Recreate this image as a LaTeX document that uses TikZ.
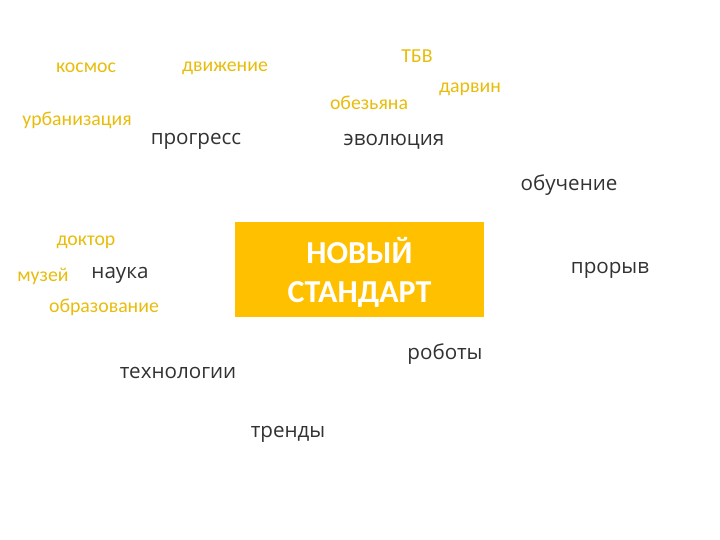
\documentclass[tikz,border=0pt]{standalone}
\usepackage{fontspec}
\setmainfont{Carlito}
\newfontfamily\darkfont{Open Sans}
\definecolor{wordyellow}{RGB}{232,188,10}
\definecolor{boxyellow}{RGB}{255,192,0}
\definecolor{worddark}{RGB}{50,50,50}
\tikzset{
  yw/.style={text=wordyellow, font=\fontsize{19.8}{22}\selectfont, inner sep=0pt},
  dw/.style={text=worddark, font=\darkfont\fontsize{20.6}{24}\selectfont, inner sep=0pt},
  mainbox/.style={fill=boxyellow, draw=none, minimum width=249pt, minimum height=95pt, inner sep=0pt},
  boxtext/.style={text=white, font=\bfseries\fontsize{32}{39}\selectfont, align=center, inner sep=0pt}
}
\begin{document}
\begin{tikzpicture}[x=1pt,y=-1pt]
\useasboundingbox (0,0) rectangle (720,540);
\node[yw] (kosmos) at (86,68) {космос};
\node[yw] (dvizh) at (225,68) {движение};
\node[yw] (urban) at (77,120) {урбанизация};
\node[dw] (progr) at (196,141) {прогресс};
\node[yw] (tbv) at (417,56) {ТБВ};
\node[yw] (darvin) at (470,89) {дарвин};
\node[yw] (obez) at (369,103) {обезьяна};
\node[dw] (evol) at (394,142) {эволюция};
\node[dw] (obuch) at (569,185) {обучение};
\node[yw] (doktor) at (86,242) {доктор};
\node[yw] (muzei) at (43,276) {музей};
\node[dw] (nauka) at (120,275) {наука};
\node[yw] (obraz) at (104,307) {образование};
\node[mainbox] (box) at (359.5,269.5) {};
\node[boxtext] (boxlbl) at (359.5,272) {НОВЫЙ\\СТАНДАРТ};
\node[dw] (proryv) at (610,270) {прорыв};
\node[dw] (roboty) at (445,354) {роботы};
\node[dw] (tehno) at (178,373) {технологии};
\node[dw] (trendy) at (288,434) {тренды};
\end{tikzpicture}
\end{document}
